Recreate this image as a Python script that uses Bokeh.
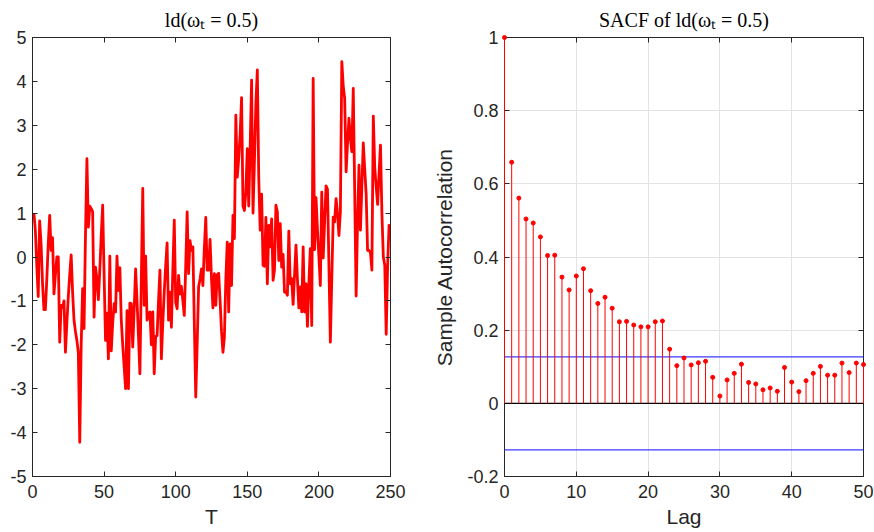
from bokeh.plotting import figure
from bokeh.layouts import row
from bokeh.models import FixedTicker, LinearAxis, Range1d, Span
from bokeh.embed import file_html
from bokeh.resources import INLINE

# ---------------- data ----------------
series = [
    1.0, 0.6, -0.2, -0.9, 0.82, 0.3, -0.6, -1.2, -1.2, -0.5,
    0.3, 0.95, 0.15, 0.44, -0.84, -0.4, 0.0, 0.0, -1.94, -1.1,
    -1.15, -1.0, -2.17, -1.5, -0.9, -0.4, 0.05, -0.8, -1.44, -1.7,
    -1.9, -2.17, -4.22, -2.0, -0.72, -1.63, 0.5, 2.24, 0.68, 1.16,
    1.1, 1.03, -1.37, -0.23, -0.5, -0.97, -0.3, 0.5, 1.18, -0.4,
    -1.9, -1.28, -2.32, 0.02, -2.14, -1.5, -1.06, -1.25, 0.02, -0.76,
    -0.24, -1.44, -2.0, -2.5, -3.0, -1.22, -3.0, -1.05, -1.06, -2.05,
    -1.2, -0.27, -1.0, -1.8, -2.66, -0.5, 1.56, -1.1, 0.02, -1.44,
    -1.3, -1.25, -2.0, -1.25, -2.66, -1.81, -1.79, -1.0, -0.3, -2.32,
    -1.5, -0.8, -0.2, 0.32, -1.44, -0.8, -1.6, -0.3, 0.84, -1.03,
    -1.18, -0.42, -0.84, -0.67, -1.0, -1.33, -0.2, 1.03, -0.38, 0.37,
    0.15, 0.23, -1.5, -3.19, -2.0, -0.68, -0.5, -0.27, -0.65, 0.2,
    0.9, -0.3, -0.3, 0.4, -0.5, -1.16, -0.38, -1.1, -0.4, -0.37,
    -1.0, -1.7, -2.17, -1.83, -0.5, 0.34, -1.25, 0.3, -0.65, 0.95,
    0.42, 3.23, 1.82, 2.24, 2.8, 3.63, 1.16, 1.06, 1.5, 2.47,
    1.16, 2.5, 4.03, 1.0, 2.2, 3.5, 4.26, 1.8, 0.61, 1.43,
    -0.19, -0.21, 0.9, -0.61, 0.72, 0.23, 0.87, -0.53, -0.29, 1.18,
    1.03, -0.08, 0.76, -0.23, 0.06, -0.8, -0.8, -0.87, 0.59, -0.61,
    -0.49, -1.08, -0.4, 0.27, -0.5, -1.16, -0.68, -1.25, 0.23, -1.25,
    -0.61, -1.58, -0.6, 0.19, -1.56, 4.07, 0.17, 1.35, 0.62, 0.0,
    -0.65, 1.48, -0.02, 0.8, 1.62, 1.54, -0.2, -1.94, -0.5, 0.91,
    0.8, 1.33, 1.0, 0.49, 1.03, 4.45, 3.9, 3.61, 1.94, 2.6,
    3.16, 2.7, 2.4, 3.84, 1.5, -0.89, 0.8, 2.09, 0.61, 1.6,
    2.6, 2.0, 1.44, 0.15, 0.15, 0.1, -0.3, 3.21, 2.04, 1.6,
    1.2, 1.9, 2.55, 1.0, 0.0, -0.19, -1.76, -0.2, 0.72, 0.52,
]
t = list(range(1, len(series) + 1))

lags = list(range(0, 51))
sacf = [
    1.0, 0.659, 0.561, 0.504, 0.493, 0.455, 0.404, 0.405, 0.345, 0.310,
    0.348, 0.368, 0.308, 0.273, 0.290, 0.260, 0.223, 0.224, 0.214, 0.209,
    0.209, 0.223, 0.225, 0.148, 0.103, 0.124, 0.105, 0.111, 0.115, 0.071,
    0.020, 0.064, 0.082, 0.107, 0.057, 0.053, 0.037, 0.042, 0.033, 0.098,
    0.058, 0.032, 0.062, 0.082, 0.101, 0.077, 0.077, 0.110, 0.084, 0.110,
    0.106,
]
bound = 0.127

left_xticks = [0, 50, 100, 150, 200, 250]
left_yticks = [-5, -4, -3, -2, -1, 0, 1, 2, 3, 4, 5]
right_xticks = [0, 10, 20, 30, 40, 50]
right_yticks = [-0.2, 0, 0.2, 0.4, 0.6, 0.8, 1]
right_ylabels = ["-0.2", "0", "0.2", "0.4", "0.6", "0.8", "1"]

left_title = "ld(ωₜ = 0.5)"
right_title = "SACF of ld(ωₜ = 0.5)"

DARK = "#262626"
TICKFONT = "Liberation Sans"


def style_axes(p, xticks, yticks, ylabels=None):
    p.outline_line_color = DARK
    p.outline_line_width = 1
    p.xaxis.ticker = FixedTicker(ticks=xticks)
    p.yaxis.ticker = FixedTicker(ticks=yticks)
    p.yaxis.major_label_overrides = {v: (ylabels[i] if ylabels else str(v)) for i, v in enumerate(yticks)}
    p.xaxis.major_label_overrides = {v: str(v) for v in xticks}
    for ax in p.xaxis + p.yaxis:
        ax.major_tick_in = 5
        ax.major_tick_out = 0
        ax.minor_tick_line_color = None
        ax.axis_line_color = DARK
        ax.major_tick_line_color = DARK
        ax.major_label_text_font = TICKFONT
        ax.major_label_text_font_size = "18px"
        ax.major_label_text_color = DARK
        ax.axis_label_text_font = TICKFONT
        ax.axis_label_text_font_size = "21px"
        ax.axis_label_text_font_style = "normal"
        ax.axis_label_text_color = DARK
    p.xaxis.major_label_standoff = 8
    p.yaxis.major_label_standoff = 6
    p.xaxis.axis_label_standoff = 4
    p.yaxis.axis_label_standoff = 8
    # ticks on the top and right edges (box on), no labels there
    top = LinearAxis(ticker=FixedTicker(ticks=xticks), major_tick_in=5, major_tick_out=0,
                     minor_tick_line_color=None, axis_line_color=DARK, major_tick_line_color=DARK,
                     major_label_overrides={v: "" for v in xticks}, major_label_text_color=None,
                     major_label_text_font_size="1px", major_label_standoff=0)
    right = LinearAxis(ticker=FixedTicker(ticks=yticks), major_tick_in=5, major_tick_out=0,
                       minor_tick_line_color=None, axis_line_color=DARK, major_tick_line_color=DARK,
                       major_label_overrides={v: "" for v in yticks}, major_label_text_color=None,
                       major_label_text_font_size="1px", major_label_standoff=0)
    p.add_layout(top, "above")
    p.add_layout(right, "right")
    p.title.text_font = "Liberation Serif"
    p.title.text_font_style = "normal"
    p.title.text_font_size = "20px"
    p.title.text_color = "black"
    p.title.align = "center"
    p.title.standoff = 13


# ---------------- left: series ----------------
p1 = figure(width=430, height=532, output_backend="svg", toolbar_location=None,
            x_range=Range1d(0, 250), y_range=Range1d(-5, 5), title=left_title,
            min_border_left=32, min_border_right=40, min_border_top=37, min_border_bottom=56)
p1.xaxis.axis_label = "T"
p1.xgrid.grid_line_color = None
p1.ygrid.grid_line_color = None
style_axes(p1, left_xticks, left_yticks)
p1.line(t, series, line_color="red", line_width=2.8, line_join="round")

# ---------------- right: SACF ----------------
p2 = figure(width=444, height=532, output_backend="svg", toolbar_location=None,
            x_range=Range1d(0, 50), y_range=Range1d(-0.2, 1), title=right_title,
            min_border_left=73, min_border_right=11, min_border_top=37, min_border_bottom=56)
p2.xaxis.axis_label = "Lag"
p2.yaxis.axis_label = "Sample Autocorrelation"
for g in (p2.xgrid, p2.ygrid):
    g.grid_line_color = "#e3e3e3"
    g.grid_line_width = 1
style_axes(p2, right_xticks, right_yticks, right_ylabels)
p2.xgrid.ticker = FixedTicker(ticks=right_xticks)
p2.ygrid.ticker = FixedTicker(ticks=right_yticks)

p2.add_layout(Span(location=0, dimension="width", line_color="black", line_width=1.2))
p2.add_layout(Span(location=bound, dimension="width", line_color="#3a3aff", line_width=1.2))
p2.add_layout(Span(location=-bound, dimension="width", line_color="#3a3aff", line_width=1.2))
p2.segment(x0=lags, y0=[0] * len(lags), x1=lags, y1=sacf, line_color="red", line_width=1,
           level="overlay")
p2.scatter(lags, sacf, size=4, color="red", level="overlay")

layout = row(p1, p2)
open("out.html", "w").write(file_html(layout, INLINE))
